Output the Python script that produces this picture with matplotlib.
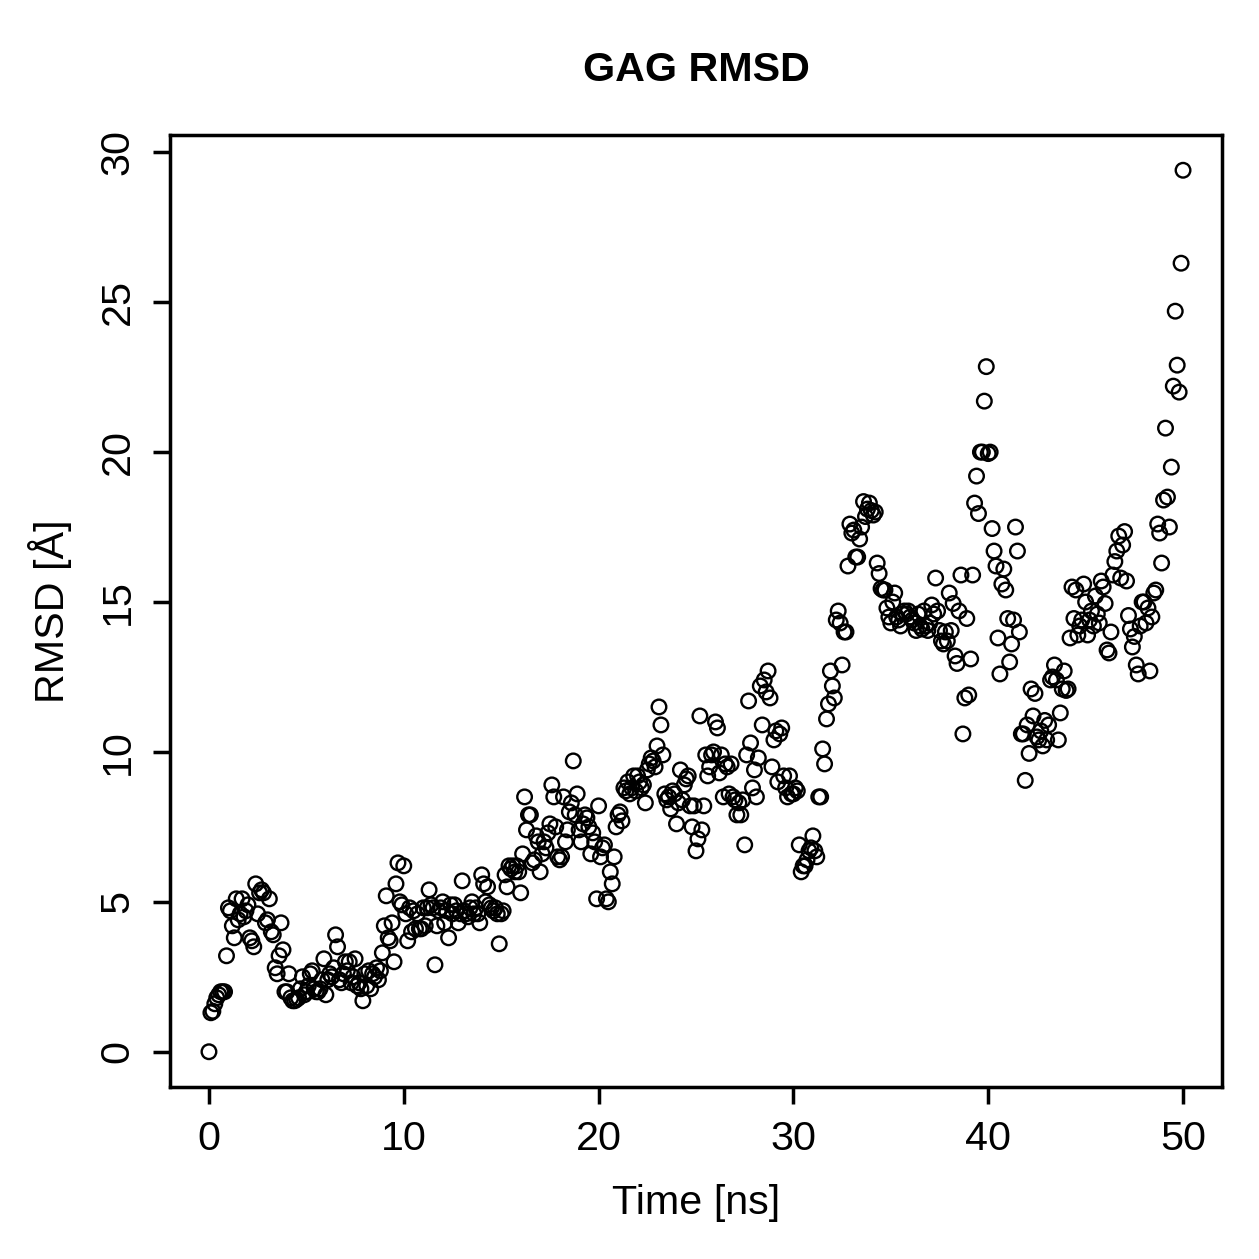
import numpy as np
import matplotlib
matplotlib.use("Agg")
import matplotlib.pyplot as plt

plt.rcParams['font.family'] = ['Liberation Sans', 'DejaVu Sans']

# RMSD values (Angstrom), one every 0.1 ns from 0 to 50 ns
rmsd_00_10 = [
    0.0, 1.3, 1.35, 1.6, 1.8, 1.9, 2.0, 2.0, 2.0, 3.2,
    4.8, 4.7, 4.2, 3.8, 5.1, 4.4, 4.6, 5.1, 4.5, 4.7,
    4.9, 3.8, 3.7, 3.5, 5.6, 4.6, 5.3, 5.4, 5.3, 4.3,
    4.4, 5.1, 4.0, 3.9, 2.8, 2.6, 3.2, 4.3, 3.4, 2.0,
    2.0, 2.6, 1.8, 1.7, 1.7, 1.75, 1.8, 2.1, 2.5, 1.9,
    2.0, 2.2, 2.6, 2.7, 2.1, 2.0, 2.0, 2.1, 2.4, 3.1,
    1.9, 2.4, 2.6, 2.5, 2.8, 3.9, 3.5, 2.4, 2.3, 2.6,
    3.0, 2.7, 3.0, 2.3, 2.5, 3.1, 2.2, 2.3, 2.1, 1.7,
    2.6, 2.2, 2.7, 2.1, 2.6, 2.5, 2.8, 2.4, 2.7, 3.3,
    4.2, 5.2, 3.8, 3.7, 4.3, 3.0, 5.6, 6.3, 5.0, 4.9,
]
rmsd_10_20 = [
    6.2, 4.6, 3.7, 4.8, 4.0, 4.7, 4.1, 4.6, 4.1, 4.1,
    4.8, 4.2, 4.8, 5.4, 4.9, 4.8, 2.9, 4.2, 4.7, 4.8,
    5.0, 4.3, 4.7, 3.8, 4.9, 4.6, 4.9, 4.7, 4.3, 4.6,
    5.7, 4.7, 4.6, 4.5, 4.8, 5.0, 4.6, 4.8, 4.6, 4.3,
    5.9, 5.6, 5.0, 5.5, 4.9, 4.8, 4.7, 4.8, 4.6, 3.6,
    4.6, 4.7, 5.9, 5.5, 6.2, 6.1, 6.2, 6.0, 6.2, 6.0,
    5.3, 6.6, 8.5, 7.4, 7.9, 7.9, 6.3, 6.4, 7.2, 7.0,
    6.0, 6.6, 7.0, 6.8, 7.3, 7.6, 8.9, 8.5, 7.5, 6.5,
    6.4, 6.5, 8.5, 7.0, 7.4, 8.0, 8.3, 9.7, 7.9, 8.6,
    7.4, 7.0, 7.6, 7.9, 7.8, 7.5, 6.6, 7.3, 7.0, 5.1,
]
rmsd_20_30 = [
    8.2, 6.5, 6.8, 6.9, 5.1, 5.0, 6.0, 5.6, 6.5, 7.5,
    7.9, 8.0, 7.7, 8.8, 8.7, 9.0, 8.6, 8.8, 9.2, 8.7,
    9.2, 9.0, 8.8, 8.9, 8.3, 9.4, 9.6, 9.8, 9.7, 9.5,
    10.2, 11.5, 10.9, 9.9, 8.6, 8.4, 8.5, 8.1, 8.7, 8.6,
    7.6, 8.3, 9.4, 8.4, 8.9, 9.1, 9.2, 8.2, 7.5, 8.2,
    6.7, 7.1, 11.2, 7.4, 8.2, 9.9, 9.2, 9.5, 9.9, 10.0,
    11.0, 10.8, 9.3, 9.9, 8.5, 9.6, 9.5, 8.6, 9.6, 8.5,
    8.4, 7.9, 8.3, 7.9, 8.4, 6.9, 9.9, 11.7, 10.3, 8.8,
    9.4, 8.5, 9.8, 12.2, 10.9, 12.4, 12.0, 12.7, 11.8, 9.5,
    10.4, 10.7, 9.0, 10.6, 10.8, 9.2, 8.8, 8.5, 9.2, 8.6,
]
rmsd_30_40 = [
    8.6, 8.8, 8.7, 6.9, 6.0, 6.2, 6.2, 6.4, 6.7, 6.8,
    7.2, 6.7, 6.5, 8.5, 8.5, 10.1, 9.6, 11.1, 11.6, 12.7,
    12.2, 11.8, 14.4, 14.7, 14.3, 12.9, 14.0, 14.0, 16.2, 17.6,
    17.3, 17.4, 16.5, 16.5, 17.1, 17.5, 18.35, 17.85, 18.1, 18.3,
    18.05, 17.9, 18.0, 16.3, 15.95, 15.45, 15.4, 15.4, 14.8, 14.5,
    14.3, 15.0, 15.3, 14.5, 14.4, 14.2, 14.6, 14.7, 14.6, 14.7,
    14.5, 14.4, 14.3, 14.05, 14.6, 14.2, 14.1, 14.7, 14.2, 14.05,
    14.3, 14.9, 14.6, 15.8, 14.7, 14.05, 13.7, 13.6, 14.0, 13.7,
    15.3, 14.05, 14.95, 13.2, 12.95, 14.7, 15.9, 10.6, 11.8, 14.45,
    11.9, 13.1, 15.9, 18.3, 19.2, 17.95, 20.0, 20.0, 21.7, 22.85,
]
rmsd_40_50 = [
    19.95, 20.0, 17.45, 16.7, 16.2, 13.8, 12.6, 15.6, 16.1, 15.4,
    14.45, 13.0, 13.6, 14.4, 17.5, 16.7, 14.0, 10.6, 10.6, 9.05,
    10.9, 9.95, 12.1, 11.2, 11.95, 10.5, 10.4, 10.7, 10.2, 11.05,
    10.4, 10.9, 12.4, 12.5, 12.9, 12.4, 10.4, 11.3, 12.1, 12.7,
    12.05, 12.1, 13.8, 15.5, 14.45, 15.4, 13.9, 14.2, 14.4, 15.6,
    15.0, 13.9, 14.4, 14.7, 14.2, 15.2, 14.6, 14.3, 15.7, 15.5,
    14.95, 13.4, 13.3, 14.0, 15.9, 16.35, 16.7, 17.2, 15.8, 16.9,
    17.35, 15.7, 14.55, 14.1, 13.5, 13.85, 12.9, 12.6, 14.2, 15.0,
    15.0, 14.3, 14.8, 12.7, 14.5, 15.3, 15.4, 17.6, 17.3, 16.3,
    18.4, 20.8, 18.5, 17.5, 19.5, 22.2, 24.7, 22.9, 22.0, 26.3,
    29.4,
]
rmsd = np.array(rmsd_00_10 + rmsd_10_20 + rmsd_20_30 + rmsd_30_40 + rmsd_40_50)
time_ns = np.arange(len(rmsd)) * 0.1

x_ticks = [0, 10, 20, 30, 40, 50]
y_ticks = [0, 5, 10, 15, 20, 25, 30]
title = "GAG RMSD"
xlabel = "Time [ns]"
ylabel = "RMSD [Å]"

W = H = 1259
dpi = 180
fig = plt.figure(figsize=(W / dpi, H / dpi), dpi=dpi)
ax = fig.add_axes([170 / W, 1 - 1087 / H, (1222 - 170) / W, (1087 - 135) / H])

ax.scatter(time_ns, rmsd, s=34, facecolors='none', edgecolors='black', linewidths=0.95)

xr = time_ns.max() - time_ns.min()
yr = rmsd.max() - rmsd.min()
ax.set_xlim(time_ns.min() - 0.04 * xr, time_ns.max() + 0.04 * xr)
ax.set_ylim(rmsd.min() - 0.04 * yr, rmsd.max() + 0.04 * yr)

ax.set_xticks(x_ticks)
ax.set_yticks(y_ticks)
ax.set_yticklabels([str(v) for v in y_ticks], rotation=90, va='center')
ax.tick_params(axis='both', direction='out', length=6.8, width=1.4,
               labelsize=16.5, color='black')
ax.tick_params(axis='x', pad=6.5)
ax.tick_params(axis='y', pad=6.5)
for sp in ax.spines.values():
    sp.set_linewidth(1.4)

fig.text(696 / W, 1 - 70 / H, title, ha='center', va='center',
         fontsize=16.5, fontweight='bold')
fig.text(696 / W, 1 - 1203 / H, xlabel, ha='center', va='center', fontsize=16.5)
fig.text(50 / W, 1 - 611 / H, ylabel, ha='center', va='center', fontsize=16.5,
         rotation=90)

fig.savefig("out.png", dpi=dpi)
